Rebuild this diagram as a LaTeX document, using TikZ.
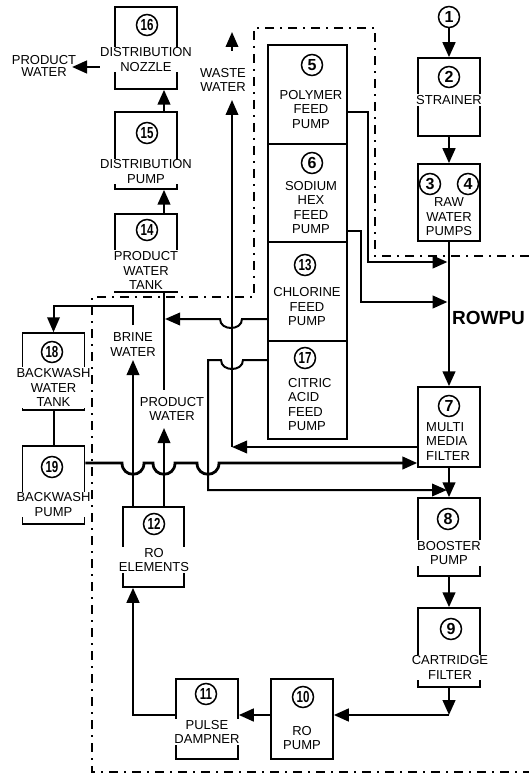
\documentclass[tikz,border=0pt]{standalone}
\usepackage{fontspec}
\usepackage{graphicx}
\newfontfamily\ar{Liberation Sans}
\newcommand\twodig[1]{\scalebox{0.72}[1]{#1}}
\usetikzlibrary{arrows.meta}
\begin{document}
\begin{tikzpicture}[x=1pt,y=-1pt,
  box/.style={draw, line width=1.5pt, minimum width=62pt, inner sep=0pt},
  lbl/.style={font=\ar\fontsize{13}{14.5}\selectfont, align=center, inner xsep=0.5pt, inner ysep=1pt},
  lblf/.style={lbl, fill=white},
  numc/.style={circle, draw, line width=1.5pt, minimum size=21pt, inner sep=0pt, fill=white, font=\ar\bfseries\fontsize{16}{16}\selectfont},
  flow/.style={line width=2.8pt, -{Triangle[length=15pt,width=12.5pt]}},
  flowthin/.style={line width=2pt, -{Triangle[length=15pt,width=12.5pt]}},
  thn/.style={line width=2pt},
  bound/.style={line width=2pt, dash pattern=on 9pt off 6pt on 2pt off 6pt},
]
\useasboundingbox (0,0) rectangle (529,775);

% ROWPU boundary
\draw[bound] (529,256) -- (375,256) -- (375,28) -- (254,28) -- (254,297) -- (92,297) -- (92,772) -- (529,772);

% boxes
\node[box, minimum height=82pt] (b16) at (146,48) {};
\node[box, minimum height=77pt] (b15) at (146,150.5) {};
\node[box, minimum height=78pt] (b14) at (146,253) {};
\node[box, minimum height=77pt] (b18) at (53.5,371.5) {};
\node[box, minimum height=78pt] (b19) at (53.5,485) {};
\node[box, minimum width=61pt, minimum height=80pt] (b12) at (153.5,547) {};
\node[box, minimum height=80pt] (b11) at (207,719) {};
\node[box, minimum height=80pt] (b10) at (302,719) {};
\node[box, minimum height=79pt] (b9) at (449,647.5) {};
\node[box, minimum height=78pt] (b8) at (449,537) {};
\node[box, minimum height=80pt] (b7) at (449,427) {};
\node[box, minimum height=77pt] (b34) at (449,202.5) {};
\node[box, minimum height=78pt] (b2) at (449,97) {};
\node[box, minimum width=79pt, minimum height=99pt] (b5) at (307.5,94.5) {};
\node[box, minimum width=79pt, minimum height=98pt] (b6) at (307.5,193) {};
\node[box, minimum width=79pt, minimum height=99pt] (b13) at (307.5,291.5) {};
\node[box, minimum width=79pt, minimum height=98pt] (b17) at (307.5,390) {};

% helper coordinates
\coordinate (px) at (164,0);
\coordinate (bx) at (133,0);
\coordinate (jpoly) at (447.5,262);
\coordinate (jsod) at (447.5,302);
\coordinate (jcl) at (165,319);
\coordinate (jcit) at (447,490);
\coordinate (wc) at (232,447);
\coordinate (ww1) at (232,100);
\coordinate (ww2) at (232,51);
\coordinate (ww3) at (232,32);
\coordinate (pwend) at (164,390);
\coordinate (pwtip) at (164,428);
\coordinate (brtip) at (133,360);
\coordinate (brs) at (133,325);
\coordinate (brc) at (133,306);
\coordinate (c9) at (449,715);
\coordinate (pwl) at (72,67);

% numbers
\node[numc] (c1) at (449,17) {1};
\node[numc] (n2) at (449,77) {2};
\node[numc] (n3) at (430,184) {3};
\node[numc] (n4) at (468,184) {4};
\node[numc] (n5) at (312,65) {5};
\node[numc] (n6) at (312,163) {6};
\node[numc] (n7) at (449,406) {7};
\node[numc] (n8) at (448,519) {8};
\node[numc] (n9) at (451,629) {9};
\node[numc] (n10) at (303,697) {\twodig{10}};
\node[numc] (n11) at (206,694) {\twodig{11}};
\node[numc] (n12) at (154,524) {\twodig{12}};
\node[numc] (n13) at (305,265) {\twodig{13}};
\node[numc] (n14) at (147,230) {\twodig{14}};
\node[numc] (n15) at (147,133) {\twodig{15}};
\node[numc] (n16) at (147,25) {\twodig{16}};
\node[numc] (n17) at (305,358) {\twodig{17}};
\node[numc] (n18) at (52,352) {\twodig{18}};
\node[numc] (n19) at (52,467) {\twodig{19}};

% connectors
\draw[flow] (c1) -- (b2);
\draw[flow] (b2) -- (b34);
\draw[flow] (b34) -- (b7);
\draw[flow] (b5.east |- 0,112) -- (368,112) -- (368,262) -- (jpoly);
\draw[flow] (b6.east |- 0,231) -- (361,231) -- (361,302) -- (jsod);
\draw[flowthin] (b13.west |- 0,319) -- (242,319) .. controls (242,331) and (220,331) .. (220,319) -- (jcl);
\draw[flowthin] (b17.west |- 0,360) -- (243,360) .. controls (243,372) and (221,372) .. (221,360) -- (208,360) -- (208,490) -- (jcit);
\draw[flowthin] (b7.west |- wc) -- (wc);
\draw[flowthin] (wc) -- (ww1);
\draw[flowthin] (ww2) -- (ww3);
\draw[thn] (b14.south -| px) -- (pwend);
\draw[flowthin] (b12.north -| px) -- (pwtip);
\draw[flowthin] (b12.north -| bx) -- (brtip);
\draw[flowthin] (brs) -- (brc) -| (b18.north);
\draw[thn] (b18) -- (b19);
\draw[flow] (b19.east |- 0,463) -- (122,463) .. controls (122,478) and (144,478) .. (144,463) -- (153,463) .. controls (153,478) and (175,478) .. (175,463) -- (197,463) .. controls (197,478) and (219,478) .. (219,463) -- (b7.west |- 0,463);
\draw[flow] (b7) -- (b8);
\draw[flow] (b8) -- (b9);
\draw[flow] (b9) -- (c9);
\draw[flow] (c9) -- (b10.east |- c9);
\draw[flow] (b10.west |- c9) -- (b11.east |- c9);
\draw[flow] (b11.west |- c9) -| (b12.south -| bx);
\draw[flow] (b14.north -| px) -- (b15.south -| px);
\draw[flow] (b15.north -| px) -- (b16.south -| px);
\draw[flow] (b16.west |- pwl) -- (pwl);

% box texts
\node[lblf] (t16) at (146,59.5) {DISTRIBUTION\\NOZZLE};
\node[lblf] (t15) at (146,171.5) {DISTRIBUTION\\PUMP};
\node[lblf] (t14) at (146,270.5) {PRODUCT\\WATER\\TANK};
\node[lblf] (t18) at (53.5,387.5) {BACKWASH\\WATER\\TANK};
\node[lblf] (t19) at (53.5,504.5) {BACKWASH\\PUMP};
\node[lblf] (t12) at (154,560) {RO\\ELEMENTS};
\node[lblf] (t11) at (207,732) {PULSE\\DAMPNER};
\node[lblf] (t10) at (302,738) {RO\\PUMP};
\node[lblf] (t9) at (450,667.5) {CARTRIDGE\\FILTER};
\node[lblf] (t8) at (449,553) {BOOSTER\\PUMP};
\node[lbl, align=left, anchor=west] (t7) at (425.5,441.5) {MULTI\\MEDIA\\FILTER};
\node[lbl] (t34) at (449,217) {RAW\\WATER\\PUMPS};
\node[lblf] (t2) at (449,100) {STRAINER};
\node[lbl] (t5) at (311,109.5) {POLYMER\\FEED\\PUMP};
\node[lbl] (t6) at (311,207.5) {SODIUM\\HEX\\FEED\\PUMP};
\node[lbl] (t13) at (307,307) {CHLORINE\\FEED\\PUMP};
\node[lbl, align=left, anchor=west] (t17) at (287.5,404.5) {CITRIC\\ACID\\FEED\\PUMP};

% free labels
\node[lbl, font=\ar\fontsize{13}{12.5}\selectfont] (tpw1) at (44,66) {PRODUCT\\WATER};
\node[lbl] (tww) at (223,80) {WASTE\\WATER};
\node[lbl] (tbw) at (133,344.5) {BRINE\\WATER};
\node[lbl] (tpw2) at (172,409) {PRODUCT\\WATER};
\node[font=\ar\bfseries\fontsize{19}{19}\selectfont, inner sep=0pt] (rowpu) at (488.5,318) {ROWPU};
\end{tikzpicture}
\end{document}
